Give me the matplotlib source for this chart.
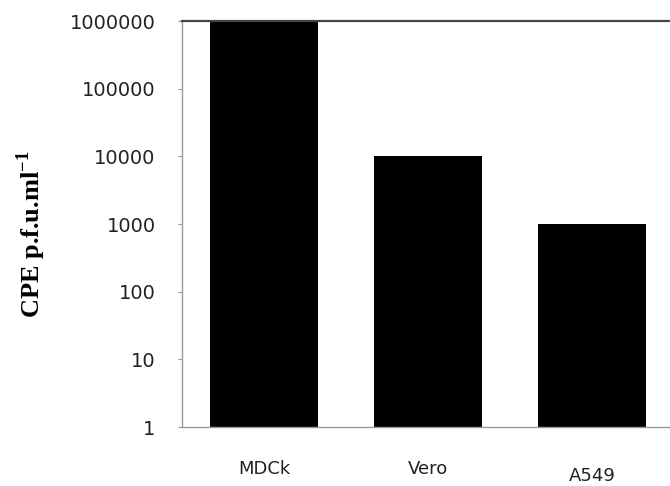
import matplotlib
matplotlib.use('Agg')
import matplotlib.pyplot as plt
import matplotlib.ticker as mticker
import matplotlib.transforms as mtrans
from matplotlib import rcParams

rcParams['font.family'] = 'DejaVu Sans'
rcParams['mathtext.fontset'] = 'custom'
rcParams['mathtext.rm'] = 'Liberation Serif'
rcParams['mathtext.bf'] = 'Liberation Serif:bold'

# data
cell_lines = ['MDCk', 'Vero', 'A549']
cpe_pfu = [1000000, 10000, 1000]
y_ticks = [1, 10, 100, 1000, 10000, 100000, 1000000]

fig = plt.figure(figsize=(6.7, 4.86), dpi=100)
ax = fig.add_axes([182 / 670, 1 - 427 / 486, 492 / 670, 406 / 486])

x = range(len(cell_lines))
ax.bar(x, cpe_pfu, width=0.66, color='black', bottom=0.97, zorder=2)

ax.set_yscale('log')
ax.set_ylim(1, 1000000)
ax.set_xlim(-0.5, 2.5)
ax.set_yticks(y_ticks)
ax.set_yticklabels([str(v) for v in y_ticks])
ax.yaxis.set_minor_locator(mticker.NullLocator())
ax.tick_params(axis='y', length=3, width=0.8, color='#999999', pad=16,
               labelsize=14, labelcolor='#222222')

ax.set_xticks(list(x))
ax.set_xticklabels(cell_lines)
ax.tick_params(axis='x', length=0, pad=24, labelsize=13, labelcolor='#222222')
# A549 sits a bit lower in the original
lab = ax.get_xticklabels()[2]
lab.set_transform(lab.get_transform() +
                  mtrans.ScaledTranslation(0, -4.5 / 72, fig.dpi_scale_trans))

for s in ['left', 'bottom']:
    ax.spines[s].set_color('#999999')
    ax.spines[s].set_linewidth(1.0)
ax.spines['top'].set_color('#444444')
ax.spines['top'].set_linewidth(1.6)
ax.spines['right'].set_visible(False)

ax.set_ylabel(r'CPE p.f.u.ml$^{\mathbf{-1}}$', fontsize=19, fontweight='bold',
              family='Liberation Serif')
ax.yaxis.set_label_coords(-0.272, 0.475)

fig.savefig('out.png', dpi=100)
